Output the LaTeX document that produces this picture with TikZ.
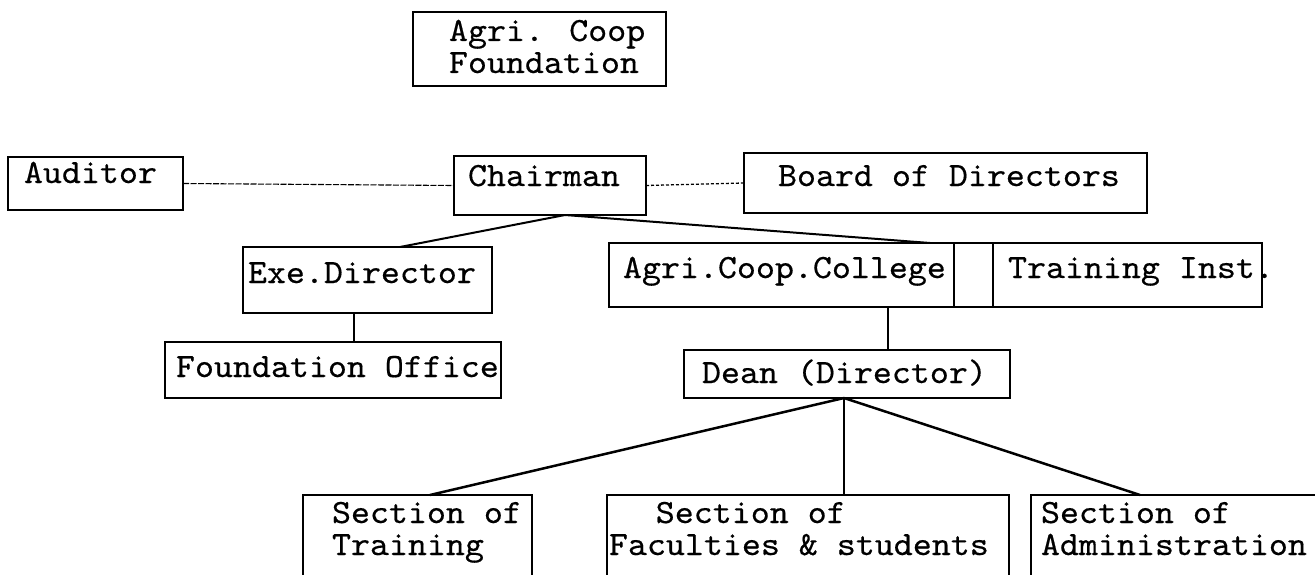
\documentclass[tikz,border=0pt]{standalone}
\usepackage{graphicx}
\usepackage{fontspec}
\newfontfamily\typew{lmmono10-regular.otf}[FakeBold=0.4]
\newcommand{\bt}[3]{\makebox[#1pt][l]{\hspace*{#2pt}\scalebox{1.064}[1]{\fontsize{34}{32}\typew\begin{tabular}[t]{@{}l@{}}#3\end{tabular}}}}
\tikzset{
  bx/.style={draw, line width=1.7pt, inner sep=0pt, outer sep=0pt, anchor=north west},
  conn/.style={line width=2pt},
  thickconn/.style={line width=2.5pt},
  auddash/.style={line width=1.1pt, dash pattern=on 6pt off 1.5pt},
  brddot/.style={line width=1.3pt, dash pattern=on 3pt off 2pt}
}
\begin{document}
\begin{tikzpicture}[x=1pt,y=-1pt]
\useasboundingbox (0,0) rectangle (1315,575);
\fill[white] (0,0) rectangle (1315,575);
\clip (0,0) rectangle (1315,575);

\node[bx, text height=29pt, text depth=45pt] (found) at (413,12) {\bt{253}{36}{Agri. Coop\\Foundation}};

\node[bx, text height=26pt, text depth=27pt] (auditor) at (8,157) {\bt{175}{16}{Auditor}};
\node[bx, text height=30pt, text depth=29pt] (chair) at (454,156) {\bt{192}{14}{Chairman}};
\node[bx, text height=33pt, text depth=27pt] (board) at (744,153) {\bt{403}{34}{Board of Directors}};

\node[bx, text height=36pt, text depth=30pt] (exe) at (243,247) {\bt{249}{5}{Exe.Director}};
\node[bx, text height=35pt, text depth=29pt] (college) at (609,243) {\bt{345}{14}{Agri.Coop.College}};
\node[bx, minimum width=39pt, minimum height=64pt] (cell) at (954,243) {};
\node[bx, text height=35pt, text depth=29pt] (train) at (993,243) {\bt{269}{15}{Training Inst.}};

\node[bx, text height=35pt, text depth=21pt] (foff) at (165,342) {\bt{336}{11}{Foundation Office}};
\node[bx, text height=33pt, text depth=15pt] (dean) at (684,350) {\bt{326}{18}{Dean (Director)}};

\node[bx, text height=28pt, text depth=55pt] (strain) at (303,495) {\bt{229}{29}{Section of\\Training}};
\node[bx, text height=28pt, text depth=55pt] (sfac) at (607,495) {\bt{402}{2}{\hspace*{44pt}Section of\\Faculties \& students}};
\node[bx, text height=28pt, text depth=55pt] (sadm) at (1031,495) {\bt{299}{10}{Section of\\Administration}};

\draw[auddash] (auditor.east) -- (chair.west);
\draw[brddot] (chair.east) -- (board.west);

\draw[conn] ([xshift=15pt]chair.south) -- ([xshift=32.5pt]exe.north);
\draw[conn] ([xshift=15pt]chair.south) -- ([xshift=148.5pt]college.north);

\draw[line width=1.7pt] ([xshift=-13.5pt]exe.south) -- ([xshift=21pt]foff.north);
\draw[line width=1.7pt] ([xshift=106.5pt]college.south) -- ([xshift=41pt]dean.north);

\draw[thickconn] ([xshift=-3pt]dean.south) -- ([xshift=12.5pt]strain.north);
\draw[line width=1.7pt] ([xshift=-3pt]dean.south) -- ([xshift=36pt]sfac.north);
\draw[thickconn] ([xshift=-3pt]dean.south) -- ([xshift=-40.5pt]sadm.north);
\end{tikzpicture}
\end{document}
